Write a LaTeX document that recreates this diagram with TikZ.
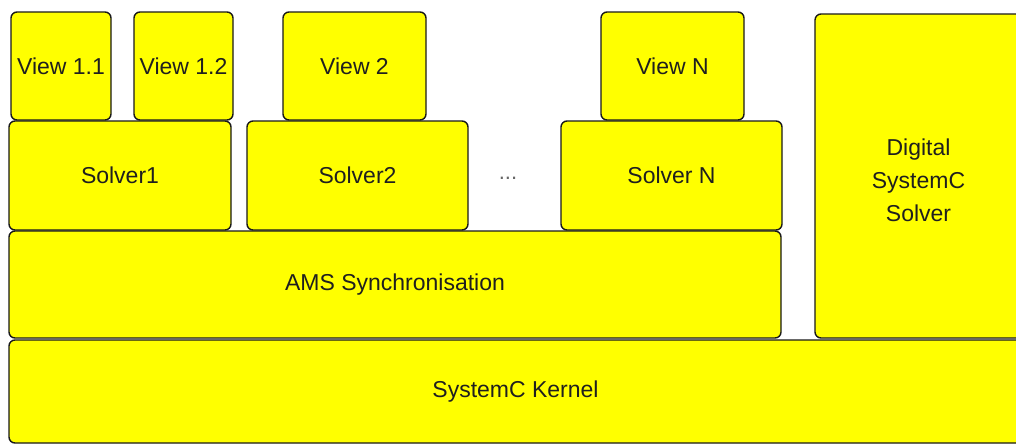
\documentclass[tikz,border=0pt]{standalone}
\usepackage{fontspec}
\setmainfont{Liberation Sans}
\definecolor{boxyellow}{RGB}{255,255,0}
\begin{document}
\begin{tikzpicture}[x=1pt,y=-1pt,
  blk/.style={draw=black!90, line width=1.4pt, fill=boxyellow, rounded corners=6pt,
    inner sep=0pt, align=center, text=black!88, font=\fontsize{23}{33}\selectfont}]
\useasboundingbox (0,0) rectangle (1016,445);
\fill[white] (0,0) rectangle (1016,445);
\clip (0,0) rectangle (1016,445);
\node[blk, minimum width=1013pt, minimum height=103pt] (ker) at (515.5,391.5) {SystemC Kernel};
\node[blk, minimum width=772pt, minimum height=107pt] (ams) at (395,284.5) {AMS Synchronisation};
\node[blk, minimum width=207pt, minimum height=324pt] (dig) at (918.5,176) {};
\node[align=center, text=black!88, font=\fontsize{23}{33}\selectfont, inner sep=0pt] (digt) at (918.5,180) {Digital\\SystemC\\Solver};
\node[blk, minimum width=222pt, minimum height=109pt] (s1) at (120,175.5) {Solver1};
\node[blk, minimum width=221pt, minimum height=109pt] (s2) at (357.5,175.5) {Solver2};
\node[blk, minimum width=221pt, minimum height=109pt] (sN) at (671.5,175.5) {Solver N};
\node[blk, minimum width=100pt, minimum height=108pt] (v11) at (61,66) {View 1.1};
\node[blk, minimum width=99pt, minimum height=108pt] (v12) at (183.5,66) {View 1.2};
\node[blk, minimum width=143pt, minimum height=108pt] (v2) at (354.5,66) {View 2};
\node[blk, minimum width=143pt, minimum height=108pt] (vN) at (672.5,66) {View N};
\node[text=black!60, font=\fontsize{22}{26}\selectfont, inner sep=0pt] (dots) at (508,178) {...};
\end{tikzpicture}
\end{document}
